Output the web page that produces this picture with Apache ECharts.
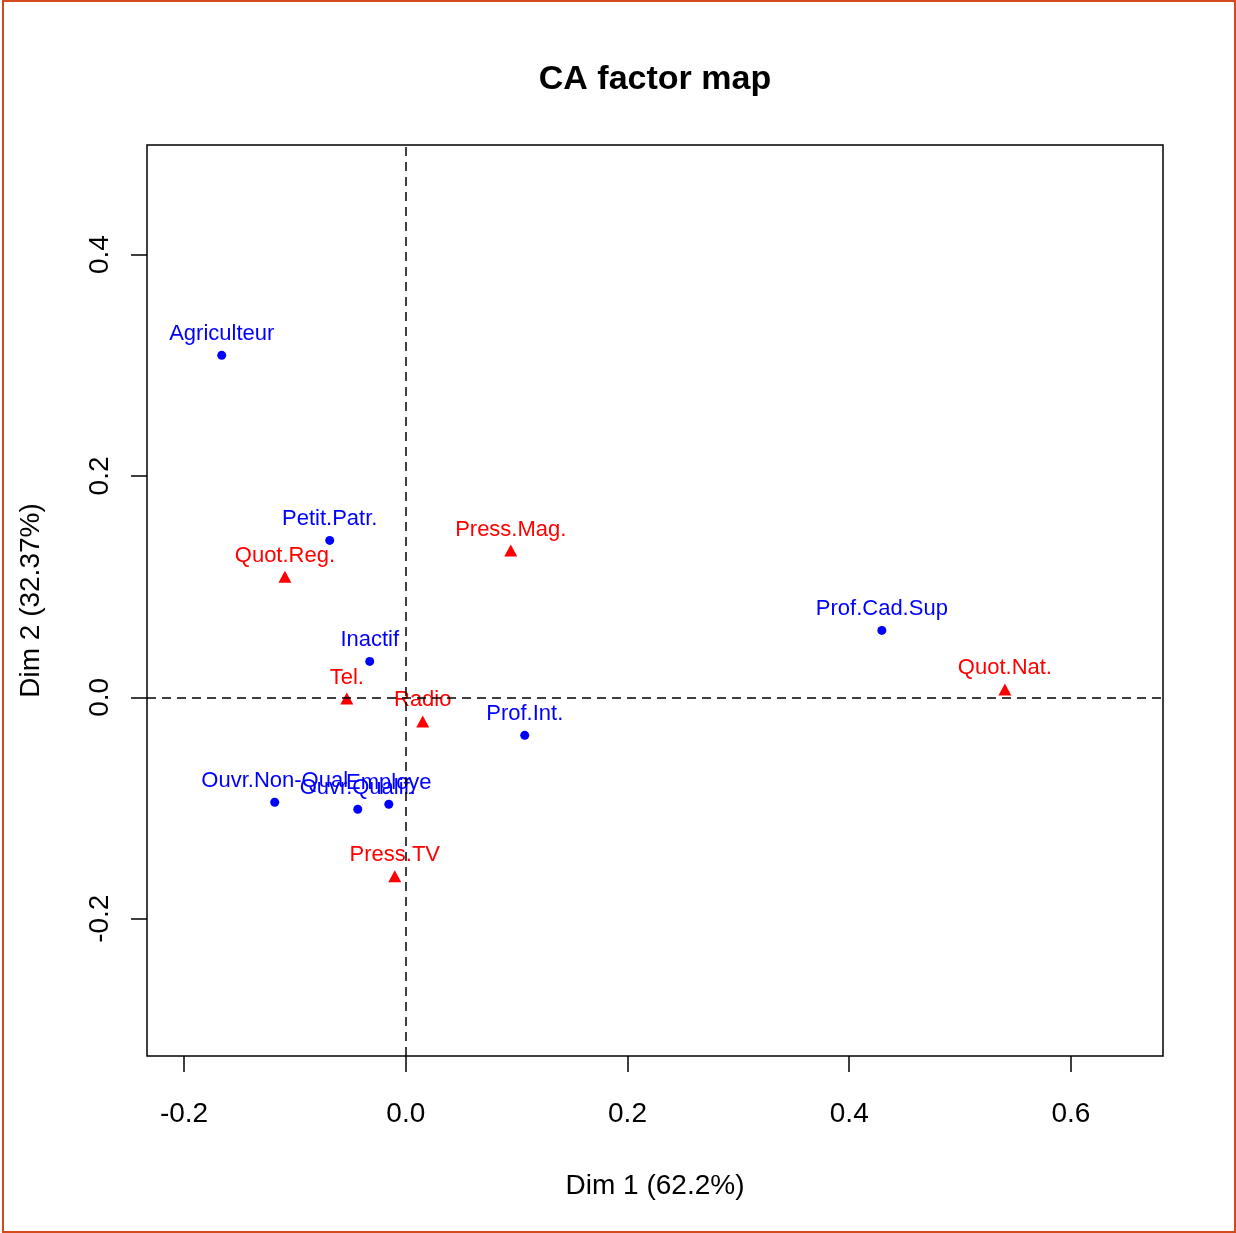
<!DOCTYPE html>
<html>
<head>
<meta charset="utf-8">
<script src="https://cdn.jsdelivr.net/npm/echarts@6/dist/echarts.min.js"></script>
<style>
html,body{margin:0;padding:0;background:#fff;}
#wrap{position:relative;width:1236px;height:1233px;}
#chart{position:absolute;left:0;top:0;width:1236px;height:1233px;}
#frame{position:absolute;left:2px;top:0px;width:1234px;height:1233px;box-sizing:border-box;border:2px solid #d44a1a;pointer-events:none;}
</style>
</head>
<body>
<div id="wrap"><div id="chart"></div><div id="frame"></div></div>
<script>
// Row points (blue)
const rowNames = ['Agriculteur','Petit.Patr.','Inactif','Prof.Cad.Sup','Prof.Int.','Ouvr.Non-Qual','Ouvr.Qualif.','Employe'];
const rowDim1  = [-0.166, -0.0686, -0.0325, 0.4294, 0.1073, -0.1182, -0.0433, -0.0153];
const rowDim2  = [0.309, 0.1418, 0.0325, 0.0605, -0.0343, -0.0948, -0.1011, -0.0966];
// Column points (red)
const colNames = ['Quot.Reg.','Press.Mag.','Tel.','Radio','Quot.Nat.','Press.TV'];
const colDim1  = [-0.109, 0.0947, -0.0532, 0.0153, 0.5404, -0.0099];
const colDim2  = [0.109, 0.1327, -0.001, -0.0217, 0.0072, -0.1616];
// Ticks
const xTicks = [-0.2, 0.0, 0.2, 0.4, 0.6];
const yTicks = [-0.2, 0.0, 0.2, 0.4];
const title = 'CA factor map';
const xName = 'Dim 1 (62.2%)';
const yName = 'Dim 2 (32.37%)';

const FONT = 'Liberation Sans, Arial, Helvetica, sans-serif';
const rowData = rowNames.map((n,i)=>({value:[rowDim1[i],rowDim2[i]],name:n}));
const colData = colNames.map((n,i)=>({value:[colDim1[i],colDim2[i]],name:n}));
const fmt = v => v.toFixed(1);

const chart = echarts.init(document.getElementById('chart'), null, {renderer:'canvas'});
chart.setOption({
  animation:false,
  backgroundColor:'#fff',
  title:{text:title,left:650,top:58,textAlign:'center',
    textStyle:{fontFamily:FONT,fontSize:34,fontWeight:'bold',color:'#000'}},
  grid:{left:147,right:73,top:145,bottom:177,show:true,borderColor:'#000',borderWidth:1.5,containLabel:false},
  xAxis:{type:'value',min:-0.2334,max:0.683,position:'bottom',
    axisLine:{show:false,onZero:false},splitLine:{show:false},
    axisTick:{show:true,inside:false,length:16,customValues:xTicks,lineStyle:{color:'#000',width:1.5}},
    axisLabel:{customValues:xTicks,formatter:fmt,margin:44,fontFamily:FONT,fontSize:28,color:'#000'},
    name:xName,nameLocation:'middle',nameGap:116,
    nameTextStyle:{fontFamily:FONT,fontSize:28,color:'#000'}},
  yAxis:{type:'value',min:-0.324,max:0.499,position:'left',
    axisLine:{show:false,onZero:false},splitLine:{show:false},
    axisTick:{show:true,inside:false,length:16,customValues:yTicks,lineStyle:{color:'#000',width:1.5}},
    axisLabel:{customValues:yTicks,formatter:fmt,rotate:90,margin:33,fontFamily:FONT,fontSize:28,color:'#000'},
    name:yName,nameLocation:'middle',nameGap:102,nameRotate:90,
    nameTextStyle:{fontFamily:FONT,fontSize:28,color:'#000'}},
  series:[
    {type:'scatter',name:'rows',data:rowData,symbol:'circle',symbolSize:9,
      itemStyle:{color:'#0000ff',opacity:1},
      label:{show:true,position:'inside',offset:[0,-21],formatter:p=>p.name,
        fontFamily:FONT,fontSize:22,color:'#0000ff'},
      emphasis:{disabled:true},
      markLine:{silent:true,symbol:['none','none'],label:{show:false},
        lineStyle:{color:'#000',type:[9,6],width:1.5,opacity:1},
        data:[{xAxis:0},{yAxis:0}]},
      z:3},
    {type:'scatter',name:'cols',data:colData,symbol:'triangle',symbolSize:[13,12],
      itemStyle:{color:'#ff0000',opacity:1},
      label:{show:true,position:'inside',offset:[0,-21],formatter:p=>p.name,
        fontFamily:FONT,fontSize:22,color:'#ff0000'},
      emphasis:{disabled:true},
      z:3}
  ]
});
</script>
</body>
</html>
